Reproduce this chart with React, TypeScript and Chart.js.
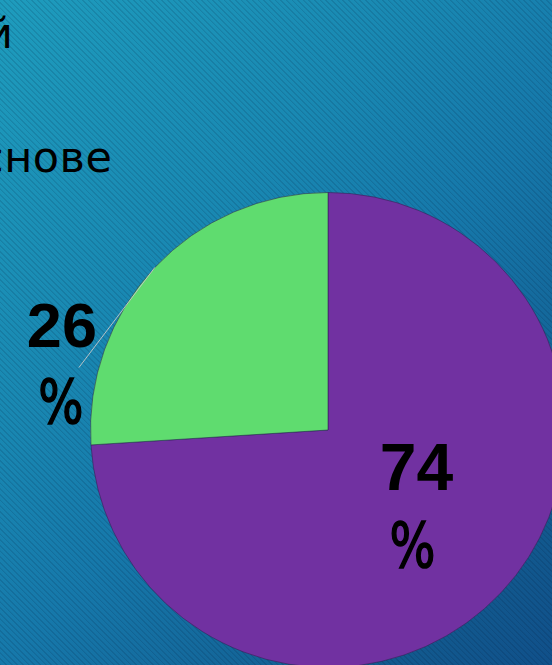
import React, { useEffect, useRef } from "react";
import { Chart, registerables } from "chart.js";

Chart.register(...registerables);

const categories = ["Категория 1", "Категория 2"];
const values = [74, 26];
const valueLabels = ["74", "26"];
const unitLabel = "%";
const sliceColors = ["#7131a1", "#5fdc6f"];
const headingTop = "й";
const headingBottom = "снове";

function drawUnit(ctx: CanvasRenderingContext2D, x: number, y: number, size: number) {
  ctx.save();
  ctx.translate(x, y);
  ctx.scale(0.78, 1);
  ctx.font = `${size}px 'DejaVu Sans', sans-serif`;
  ctx.lineWidth = 1.6;
  ctx.strokeStyle = "#000";
  ctx.fillText(unitLabel, 0, 0);
  ctx.strokeText(unitLabel, 0, 0);
  ctx.restore();
}

const labelPlugin = {
  id: "sliceLabels",
  afterDatasetsDraw(chart: any) {
    const ctx = chart.ctx;
    const meta = chart.getDatasetMeta(0);
    ctx.save();
    ctx.fillStyle = "#000000";
    ctx.textAlign = "center";
    ctx.textBaseline = "middle";
    meta.data.forEach((arc: any, i: number) => {
      const p = arc.getProps(["x", "y", "startAngle", "endAngle", "outerRadius"], true);
      const mid = (p.startAngle + p.endAngle) / 2;
      if (i === 0) {
        const lx = p.x + Math.cos(mid) * p.outerRadius * 0.5;
        const ly = p.y + Math.sin(mid) * p.outerRadius * 0.5;
        ctx.font = "bold 66px 'Liberation Sans', Arial, sans-serif";
        ctx.fillText(valueLabels[i], lx + 2, ly - 39);
        drawUnit(ctx, lx - 2, ly + 40, 62);
      } else {
        // outside label placed up-left of the slice, with leader line
        const ang = (193 * Math.PI) / 180;
        const lx = p.x + Math.cos(ang) * p.outerRadius * 1.15;
        const ly = p.y + Math.sin(ang) * p.outerRadius * 1.15;
        const ex = p.x + Math.cos(mid) * p.outerRadius;
        const ey = p.y + Math.sin(mid) * p.outerRadius;
        ctx.strokeStyle = "rgba(200,200,200,0.9)";
        ctx.lineWidth = 1;
        ctx.beginPath();
        ctx.moveTo(lx + 17, ly - 1);
        ctx.lineTo(ex, ey);
        ctx.stroke();
        ctx.font = "bold 63px 'Liberation Sans', Arial, sans-serif";
        ctx.fillText(valueLabels[i], lx, ly - 39);
        drawUnit(ctx, lx - 1, ly + 39, 61);
      }
    });
    ctx.restore();
  },
};

export default function App() {
  const canvasRef = useRef<HTMLCanvasElement>(null);

  useEffect(() => {
    if (!canvasRef.current) return;
    const chart = new Chart(canvasRef.current, {
      type: "pie",
      data: {
        labels: categories,
        datasets: [
          {
            data: values,
            backgroundColor: sliceColors,
            borderColor: "rgba(45,35,80,0.55)",
            borderWidth: 1,
            hoverOffset: 0,
          },
        ],
      },
      options: {
        responsive: false,
        animation: false,
        events: [],
        layout: { padding: { left: 90, right: 134, top: 192, bottom: 232 } },
        plugins: {
          legend: { display: false },
          tooltip: { enabled: false },
          title: { display: false },
        },
      },
      plugins: [labelPlugin],
    });
    return () => chart.destroy();
  }, []);

  const textStyle: React.CSSProperties = {
    position: "absolute",
    fontFamily: "'DejaVu Sans', sans-serif",
    fontSize: "43px",
    lineHeight: "43px",
    color: "#000",
    letterSpacing: "0.5px",
    whiteSpace: "nowrap",
    margin: 0,
  };

  return (
    <div
      style={{
        position: "fixed",
        left: 0,
        top: 0,
        width: 552,
        height: 665,
        overflow: "hidden",
        background:
          "repeating-linear-gradient(45deg, rgba(0,20,50,0.13) 0px, rgba(0,20,50,0.13) 1px, rgba(0,0,0,0) 1.5px, rgba(0,0,0,0) 4px), linear-gradient(135deg, #1e9cbd 0%, #1988b2 35%, #1678aa 55%, #125b8f 85%, #10508a 100%)",
      }}
    >
      <div style={{ ...textStyle, left: -15, top: 12 }}>{headingTop}</div>
      <div style={{ ...textStyle, left: -20, top: 136 }}>{headingBottom}</div>
      <canvas
        ref={canvasRef}
        width={700}
        height={900}
        style={{ position: "absolute", left: 0, top: 0, width: 700, height: 900 }}
      />
    </div>
  );
}
